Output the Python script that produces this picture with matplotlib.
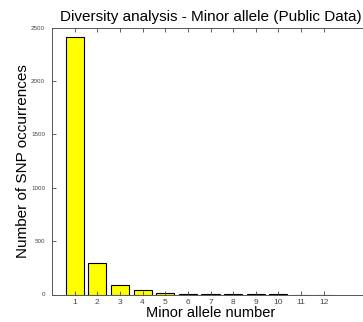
import numpy as np
import matplotlib.pyplot as plt

# data
allele_number = np.arange(1, 13)
snp_counts = [2410, 296, 88, 38, 12, 4, 4, 3, 3, 3, 0, 0]

plt.rcParams['font.family'] = ['Liberation Sans', 'DejaVu Sans']

fig = plt.figure(figsize=(3.63, 3.22), dpi=100)
ax = fig.add_axes([52 / 363, 27.5 / 322, 317 / 363, 267 / 322])

ax.bar(allele_number, snp_counts, width=0.8, color='#ffff00',
       edgecolor='black', linewidth=0.8)

ax.set_xlim(0, 14)
ax.set_ylim(0, 2500)
ax.set_xticks(allele_number)
ax.set_yticks([0, 500, 1000, 1500, 2000, 2500])
ax.tick_params(direction='in', top=True, right=True,
               length=3, width=0.6, colors='#444444')
ax.tick_params(axis='x', labelsize=6, pad=3.5)
ax.tick_params(axis='y', labelsize=4.5, pad=5)
for s in ax.spines.values():
    s.set_color('#555555')
    s.set_linewidth(0.7)

ax.set_title('Diversity analysis - Minor allele (Public Data)', fontsize=11, pad=5)
ax.set_xlabel('Minor allele number', fontsize=10.5, labelpad=0)
ax.set_ylabel('Number of SNP occurrences', fontsize=11)
ax.yaxis.set_label_coords(-0.07, 0.5)

fig.savefig('out.png', dpi=100)
